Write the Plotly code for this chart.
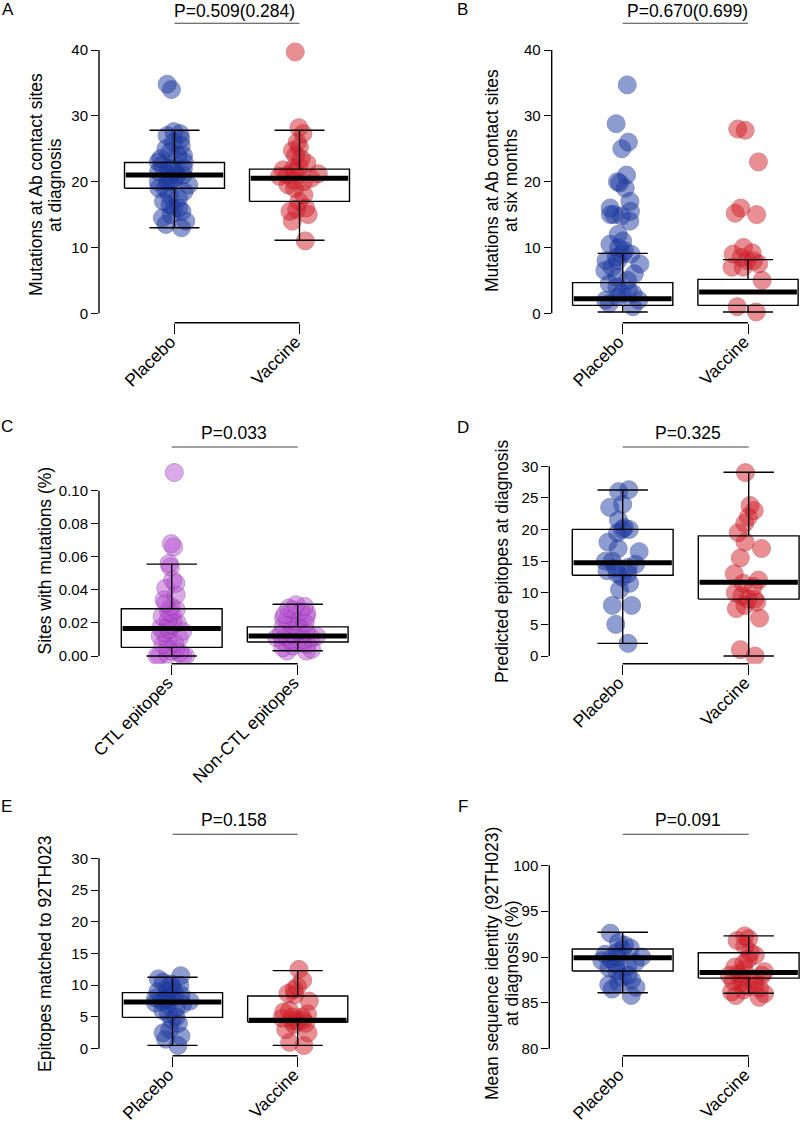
import plotly.graph_objects as go

FONT = "Liberation Sans, Arial, Helvetica, sans-serif"
W, H = 800, 1126

# ---------------- data ----------------
groups_ab = ["Placebo", "Vaccine"]
groups_ctl = ["CTL epitopes", "Non-CTL epitopes"]

# Panel A: mutations at Ab contact sites at diagnosis
a_placebo = [34.8, 34.0, 27.6, 27.3, 27.0, 26.5, 26.0, 25.5, 25.0, 24.5, 24.0, 24.0, 23.5,
             23.0, 23.0, 22.5, 22.0, 22.0, 22.0, 21.5, 21.5, 21.0, 21.0, 21.0, 20.5, 20.0,
             20.0, 20.0, 19.5, 19.0, 19.0, 18.5, 18.0, 17.5, 17.0, 16.5, 16.0, 16.0, 15.5,
             15.0, 14.5, 14.0, 13.5, 13.0]
a_vaccine = [39.7, 28.2, 27.3, 26.0, 25.3, 24.7, 24.0, 23.5, 22.8, 22.3, 22.0, 21.8, 21.5,
             21.2, 21.0, 20.8, 20.5, 20.2, 20.0, 19.5, 19.0, 18.0, 17.0, 16.0, 15.8, 15.5,
             15.0, 14.0, 11.0]
# box stats: lower whisker, q1, median, q3, upper whisker
a_stats_placebo = [13.0, 19.0, 21.0, 22.9, 27.8]
a_stats_vaccine = [11.1, 17.0, 20.5, 21.9, 27.8]

# Panel B: mutations at Ab contact sites at six months
b_placebo = [34.7, 28.8, 26.0, 25.0, 21.0, 20.0, 19.8, 19.0, 17.0, 16.0, 15.5, 15.0, 15.0,
             14.8, 14.0, 12.0, 11.0, 10.5, 10.0, 9.5, 9.0, 9.0, 8.5, 8.0, 8.0, 7.5, 7.0,
             6.5, 6.0, 5.5, 5.0, 4.5, 4.0, 3.5, 3.0, 3.0, 2.5, 2.0, 2.0, 1.5, 1.0]
b_vaccine = [28.0, 27.8, 23.0, 16.0, 15.2, 15.0, 10.0, 9.2, 9.0, 8.5, 8.0, 8.0, 7.5, 7.0,
             7.0, 5.0, 1.0, 0.2]
b_stats_placebo = [0.2, 1.2, 2.2, 4.66, 9.1]
b_stats_vaccine = [0.2, 1.2, 3.24, 5.16, 8.15]

# Panel C: sites with mutations (%)
c_ctl = [0.111, 0.068, 0.066, 0.056, 0.054, 0.046, 0.044, 0.041, 0.037, 0.034, 0.032,
         0.030, 0.028, 0.027, 0.026, 0.024, 0.022, 0.021, 0.020, 0.019, 0.018, 0.017,
         0.016, 0.015, 0.014, 0.012, 0.011, 0.010, 0.008, 0.007, 0.005, 0.004, 0.003,
         0.002, 0.001, 0.000, 0.000, 0.000, 0.000]
c_nonctl = [0.031, 0.030, 0.029, 0.028, 0.027, 0.026, 0.025, 0.024, 0.023, 0.022, 0.021,
            0.020, 0.019, 0.018, 0.018, 0.017, 0.016, 0.015, 0.015, 0.014, 0.013, 0.013,
            0.012, 0.012, 0.011, 0.011, 0.010, 0.010, 0.009, 0.009, 0.008, 0.008, 0.007,
            0.006, 0.005, 0.004, 0.003, 0.003]
c_stats_ctl = [0.0, 0.0052, 0.0167, 0.0286, 0.0556]
c_stats_nonctl = [0.0032, 0.0085, 0.0121, 0.0176, 0.0313]

# Panel D: predicted epitopes at diagnosis
d_placebo = [26.3, 26.0, 24.0, 23.5, 21.5, 20.3, 20.0, 20.0, 19.5, 18.0, 17.0, 16.5, 15.0,
             15.0, 14.5, 14.0, 14.0, 13.5, 13.0, 13.0, 12.5, 11.5, 10.5, 8.0, 8.0, 5.0, 2.0]
d_vaccine = [29.0, 23.8, 23.0, 22.0, 21.0, 19.5, 18.0, 17.0, 15.5, 13.0, 12.0, 11.5, 11.0,
             10.0, 9.5, 9.0, 9.0, 8.5, 8.0, 7.5, 6.0, 1.0, 0.0]
d_stats_placebo = [2.0, 12.76, 14.76, 20.03, 26.25]
d_stats_vaccine = [0.0, 9.0, 11.65, 19.0, 29.05]

# Panel E: epitopes matched to 92TH023
e_placebo = [11.5, 11.0, 10.5, 10.2, 10.0, 9.7, 9.5, 9.0, 9.0, 8.7, 8.5, 8.2, 8.0, 8.0, 7.8,
             7.5, 7.5, 7.2, 7.0, 7.0, 6.5, 6.0, 5.5, 5.0, 4.5, 4.0, 3.0, 2.5, 2.0, 1.5, 0.5]
e_vaccine = [12.5, 10.8, 9.8, 9.3, 8.7, 8.5, 7.5, 6.0, 5.8, 5.5, 5.0, 5.0, 4.8, 4.5, 4.5,
             4.3, 4.0, 3.8, 3.0, 2.5, 1.0, 0.5]
e_stats_placebo = [0.53, 4.94, 7.36, 8.83, 11.25]
e_stats_vaccine = [0.53, 4.2, 4.47, 8.3, 12.3]

# Panel F: mean sequence identity (92TH023) at diagnosis (%)
f_placebo = [92.6, 91.6, 91.3, 91.0, 90.8, 90.5, 90.3, 90.0, 90.0, 89.8, 89.6, 89.4, 89.2,
             89.0, 88.8, 88.5, 88.0, 87.8, 87.5, 87.2, 87.0, 86.7, 86.5, 85.8]
f_vaccine = [92.3, 92.0, 91.8, 91.2, 90.5, 90.2, 89.8, 89.3, 88.9, 88.6, 88.4, 88.2, 88.0,
             88.0, 87.8, 87.6, 87.4, 87.2, 87.0, 86.8, 86.6, 86.4, 86.2, 86.0, 85.8, 85.6]
f_stats_placebo = [86.1, 88.47, 89.93, 90.87, 92.7]
f_stats_vaccine = [86.04, 87.7, 88.3, 90.47, 92.3]

p_values = ["P=0.509(0.284)", "P=0.670(0.699)", "P=0.033", "P=0.325", "P=0.158", "P=0.091"]
panel_letters = ["A", "B", "C", "D", "E", "F"]
y_titles = [["Mutations at Ab contact sites", "at diagnosis"],
            ["Mutations at Ab contact sites", "at six months"],
            ["Sites with mutations (%)"],
            ["Predicted epitopes at diagnosis"],
            ["Epitopes matched to 92TH023"],
            ["Mean sequence identity (92TH023)", "at diagnosis (%)"]]
y_ticks = [[0, 10, 20, 30, 40], [0, 10, 20, 30, 40],
           [0.0, 0.02, 0.04, 0.06, 0.08, 0.10],
           [0, 5, 10, 15, 20, 25, 30], [0, 5, 10, 15, 20, 25, 30],
           [80, 85, 90, 95, 100]]
y_ticktext = [None, None, ["0.00", "0.02", "0.04", "0.06", "0.08", "0.10"], None, None, None]

BLUE = "rgb(30,60,165)"
BLUE_EDGE = "rgb(25,45,130)"
RED = "rgb(212,32,42)"
RED_EDGE = "rgb(175,25,35)"
PURPLE = "rgb(186,85,211)"
PURPLE_EDGE = "rgb(130,50,160)"

panels = [
    dict(cats=groups_ab, vals=[a_placebo, a_vaccine], stats=[a_stats_placebo, a_stats_vaccine],
         colors=[(BLUE, BLUE_EDGE), (RED, RED_EDGE)]),
    dict(cats=groups_ab, vals=[b_placebo, b_vaccine], stats=[b_stats_placebo, b_stats_vaccine],
         colors=[(BLUE, BLUE_EDGE), (RED, RED_EDGE)]),
    dict(cats=groups_ctl, vals=[c_ctl, c_nonctl], stats=[c_stats_ctl, c_stats_nonctl],
         colors=[(PURPLE, PURPLE_EDGE), (PURPLE, PURPLE_EDGE)]),
    dict(cats=groups_ab, vals=[d_placebo, d_vaccine], stats=[d_stats_placebo, d_stats_vaccine],
         colors=[(BLUE, BLUE_EDGE), (RED, RED_EDGE)]),
    dict(cats=groups_ab, vals=[e_placebo, e_vaccine], stats=[e_stats_placebo, e_stats_vaccine],
         colors=[(BLUE, BLUE_EDGE), (RED, RED_EDGE)]),
    dict(cats=groups_ab, vals=[f_placebo, f_vaccine], stats=[f_stats_placebo, f_stats_vaccine],
         colors=[(BLUE, BLUE_EDGE), (RED, RED_EDGE)]),
]

# ---------------- layout geometry (pixels) ----------------
# y: (v0, p0, v1, p1, bottom_px, top_px); x: (c1, c2, left_px, right_px)
geo_y = [(0, 313.3, 40, 50.0, 322.7, 35),
         (0, 313.3, 40, 50.0, 322.7, 35),
         (0, 656.0, 0.10, 490.7, 663.7, 460),
         (0, 656.0, 30, 466.3, 663.7, 455),
         (0, 1048.7, 30, 858.3, 1055.7, 845),
         (80, 1048.7, 100, 865.3, 1055.7, 845)]
geo_x = [(174.5, 299.5, 99.0, 392),
         (622.7, 748.0, 551.7, 800),
         (171.7, 297.7, 99.0, 392),
         (622.7, 748.7, 549.3, 800),
         (172.5, 297.7, 99.0, 392),
         (622.7, 748.7, 549.3, 800)]
# P-value text / line, panel letter, y-title line centres (pixels)
p_text_pos = [(234.7, 11), (687.5, 11), (234.0, 433), (687.5, 433), (234.0, 820), (687.5, 820)]
p_line_y = [23.3, 23.3, 447.0, 447.0, 834.3, 834.3]
letter_pos = [(7.5, 9.5), (462.7, 9.5), (7.0, 427), (463.0, 428), (6.7, 806.5), (463.0, 806.7)]
ytitle_pos = [[(36, 185), (55, 185)],
              [(492, 181), (511, 181)],
              [(45, 560.5)],
              [(502, 561)],
              [(45, 954)],
              [(492, 964), (512, 964)]]

BOX_HALF = 0.4
CAP_HALF = 0.2
JITTER_W = 0.34


def px2x(px):
    return px / W


def px2y(py):
    return 1 - py / H


fig = go.Figure()
shapes = []
annotations = []

for i, pan in enumerate(panels):
    n = i + 1
    xa = "x" if n == 1 else f"x{n}"
    ya = "y" if n == 1 else f"y{n}"
    v0, p0, v1, p1, bot, top = geo_y[i]
    u = (v1 - v0) / (p0 - p1)
    yr = [v0 - (bot - p0) * u, v0 + (p0 - top) * u]
    c1, c2, left, right = geo_x[i]
    s = c2 - c1
    xr = [1 - (c1 - left) / s, 1 + (right - c1) / s]

    # boxes (R-style: box, whiskers with caps, thick median)
    for k, (st, col) in enumerate(zip(pan["stats"], pan["colors"])):
        pos = k + 1
        lo, q1, med, q3, hi = st
        fig.add_trace(go.Scatter(
            x=[pos - BOX_HALF, pos + BOX_HALF, pos + BOX_HALF, pos - BOX_HALF, pos - BOX_HALF],
            y=[q1, q1, q3, q3, q1], mode="lines", line=dict(color="black", width=1.4),
            xaxis=xa, yaxis=ya, showlegend=False, hoverinfo="skip"))
        fig.add_trace(go.Scatter(
            x=[pos, pos, None, pos, pos], y=[q3, hi, None, q1, lo], mode="lines",
            line=dict(color="black", width=1.4), xaxis=xa, yaxis=ya,
            showlegend=False, hoverinfo="skip"))
        fig.add_trace(go.Scatter(
            x=[pos - CAP_HALF, pos + CAP_HALF, None, pos - CAP_HALF, pos + CAP_HALF],
            y=[hi, hi, None, lo, lo], mode="lines", line=dict(color="black", width=1.4),
            xaxis=xa, yaxis=ya, showlegend=False, hoverinfo="skip"))
        fig.add_trace(go.Scatter(
            x=[pos - BOX_HALF + 0.01, pos + BOX_HALF - 0.01], y=[med, med], mode="lines",
            line=dict(color="black", width=5), xaxis=xa, yaxis=ya,
            showlegend=False, hoverinfo="skip"))

    # jittered points (plotly box trace used only for its jitter)
    for k, (vals, col) in enumerate(zip(pan["vals"], pan["colors"])):
        pos = k + 1
        fig.add_trace(go.Box(
            x=[pos] * len(vals), y=vals, orientation="v", boxpoints="all", jitter=1,
            pointpos=0, width=JITTER_W, fillcolor="rgba(0,0,0,0)",
            line=dict(width=0, color="rgba(0,0,0,0)"), whiskerwidth=0,
            marker=dict(size=18, color=col[0], opacity=0.5,
                        line=dict(width=1, color=col[1])),
            name=pan["cats"][k], xaxis=xa, yaxis=ya, showlegend=False, hoveron="points"))

    dom_x = [px2x(left), px2x(right)]
    dom_y = [px2y(bot), px2y(top)]
    fig.layout[("xaxis" if n == 1 else f"xaxis{n}")] = dict(
        domain=dom_x, range=xr, anchor=ya, showgrid=False, zeroline=False, showline=False,
        tickmode="array", tickvals=[1, 2], ticktext=pan["cats"], ticks="outside",
        ticklen=10, tickwidth=1.3, tickcolor="black", tickangle=-45,
        ticklabelshift=-4, ticklabelstandoff=-9, automargin=False,
        tickfont=dict(family=FONT, size=17.5, color="black"), fixedrange=True)
    yt = dict(domain=dom_y, range=yr, anchor=xa, showgrid=False, zeroline=False,
              showline=False, tickmode="array", tickvals=y_ticks[i], ticks="outside",
              ticklen=7, tickwidth=1.3, tickcolor="black", automargin=False,
              tickfont=dict(family=FONT, size=15, color="black"), fixedrange=True)
    if y_ticktext[i] is not None:
        yt["ticktext"] = y_ticktext[i]
    fig.layout[("yaxis" if n == 1 else f"yaxis{n}")] = yt

    # R-style y axis line from first to last tick
    shapes.append(dict(type="line", xref=f"{xa} domain", yref=ya, x0=0, x1=0,
                       y0=y_ticks[i][0], y1=y_ticks[i][-1],
                       line=dict(color="black", width=1.4)))
    # R-style x axis bracket between the categories
    shapes.append(dict(type="line", xref=xa, yref=f"{ya} domain", x0=1, x1=2, y0=0, y1=0,
                       line=dict(color="black", width=1.4)))
    # P-value line
    shapes.append(dict(type="line", xref=xa, yref="paper", x0=1, x1=2,
                       y0=px2y(p_line_y[i]), y1=px2y(p_line_y[i]),
                       line=dict(color="#444444", width=1.1)))

    annotations.append(dict(text=p_values[i], xref="paper", yref="paper",
                            x=px2x(p_text_pos[i][0]), y=px2y(p_text_pos[i][1]),
                            xanchor="center", yanchor="middle", showarrow=False,
                            font=dict(family=FONT, size=17.5, color="black")))
    annotations.append(dict(text=panel_letters[i], xref="paper", yref="paper",
                            x=px2x(letter_pos[i][0]), y=px2y(letter_pos[i][1]),
                            xanchor="center", yanchor="middle", showarrow=False,
                            font=dict(family=FONT, size=17, color="black")))
    for line_txt, (tx, ty) in zip(y_titles[i], ytitle_pos[i]):
        annotations.append(dict(text=line_txt, xref="paper", yref="paper",
                                x=px2x(tx), y=px2y(ty), xanchor="center", yanchor="middle",
                                textangle=-90, showarrow=False,
                                font=dict(family=FONT, size=17.5, color="black")))

fig.update_layout(
    width=W, height=H, margin=dict(l=0, r=0, t=0, b=0, pad=0, autoexpand=False),
    paper_bgcolor="white", plot_bgcolor="rgba(0,0,0,0)",
    shapes=shapes, annotations=annotations, showlegend=False,
    font=dict(family=FONT, color="black"), boxmode="overlay")

fig.write_html("out.html", config={"displayModeBar": False},
               post_script="document.body.style.margin='0';"
                           "document.body.style.overflow='hidden';")
